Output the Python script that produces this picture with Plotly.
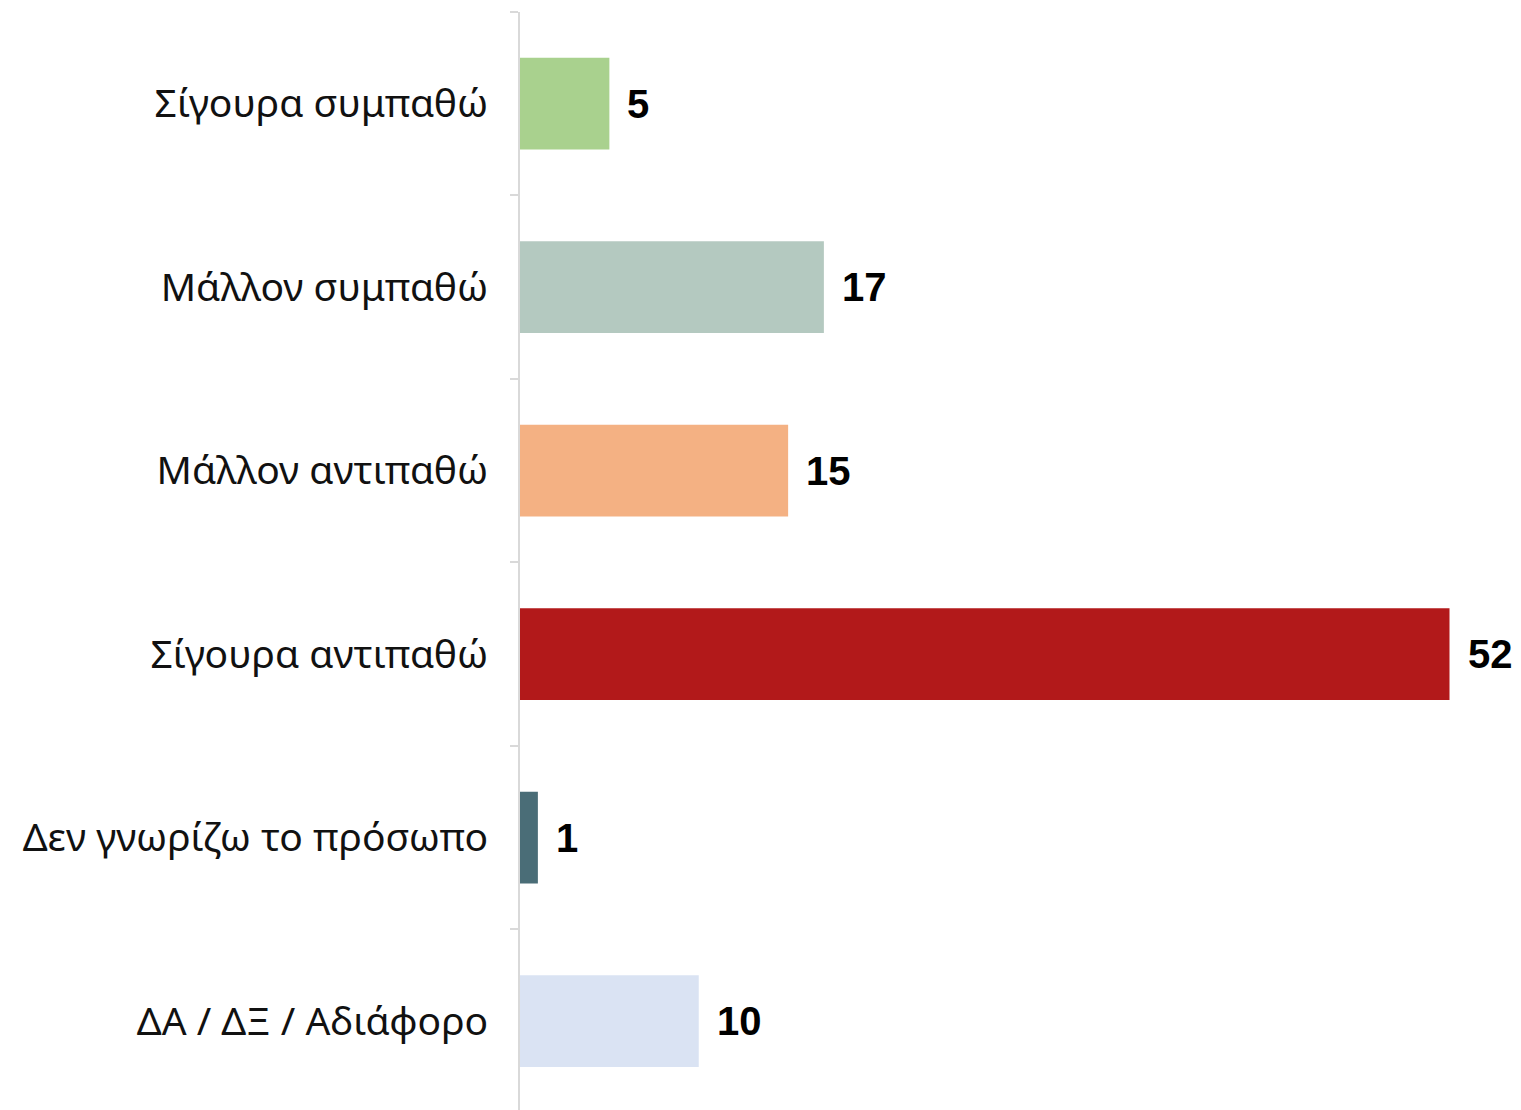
import plotly.graph_objects as go

categories = ["Σίγουρα συμπαθώ", "Μάλλον συμπαθώ", "Μάλλον αντιπαθώ",
              "Σίγουρα αντιπαθώ", "Δεν γνωρίζω το πρόσωπο", "ΔΑ / ΔΞ / Αδιάφορο"]
values = [5, 17, 15, 52, 1, 10]
colors = ["#A9D18E", "#B4C9C0", "#F4B183", "#B2191A", "#4A6D77", "#DAE3F3"]

fig = go.Figure()
fig.add_trace(go.Bar(
    x=values, y=categories, orientation="h",
    marker=dict(color=colors, line=dict(width=0)),
    hoverinfo="skip",
))

for c, v in zip(categories, values):
    fig.add_annotation(
        x=v, y=c, text=f"<b>{v}</b>", showarrow=False,
        xanchor="left", yanchor="middle", xshift=16,
        font=dict(family="Liberation Sans", size=40, color="#000000"),
    )

fig.update_layout(
    width=1513, height=1102,
    margin=dict(l=512, r=0, t=4, b=0),
    paper_bgcolor="white", plot_bgcolor="white",
    bargap=0.5, showlegend=False,
    xaxis=dict(range=[0, 56], visible=False, fixedrange=True),
    yaxis=dict(
        categoryorder="array", categoryarray=categories,
        range=[5.484, -0.5],
        showline=True, linecolor="#D9D9D9", linewidth=2,
        ticks="outside", tickson="boundaries", ticklen=8,
        tickcolor="#D9D9D9", tickwidth=2,
        ticklabelstandoff=22,
        tickfont=dict(family="Noto Sans", size=39, color="#111111"),
        showgrid=False, zeroline=False,
    ),
)

fig.write_html("out.html")
